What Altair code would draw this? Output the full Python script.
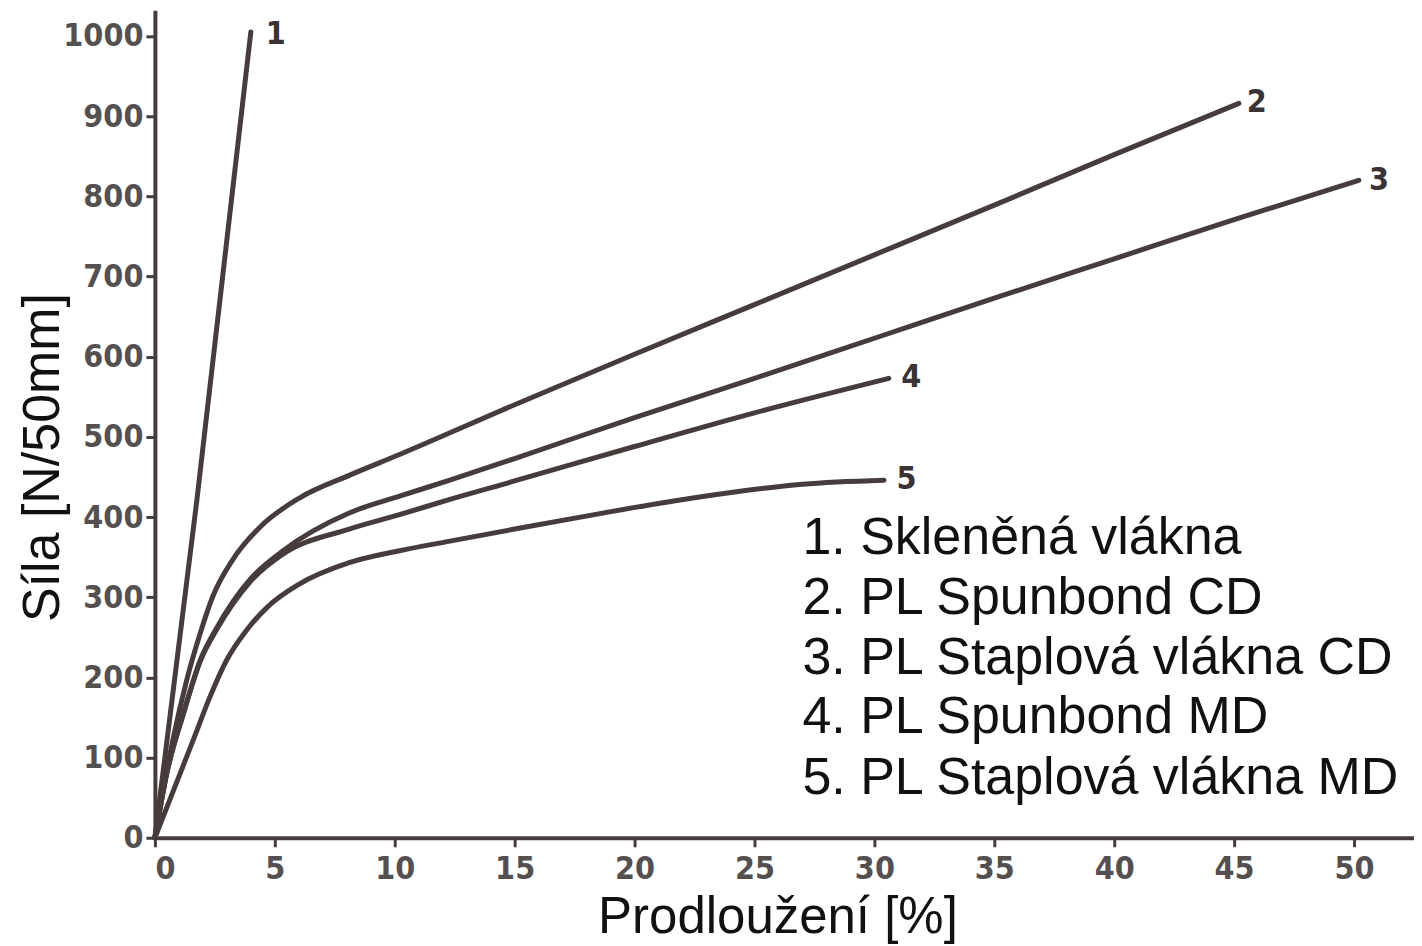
import altair as alt
import pandas as pd

# ---- data ----
x1 = [0, 1.75, 4.0]
y1 = [0, 421, 1005]

x2 = [0, 0.75, 1.33, 1.9, 2.4, 3.25, 4.4, 6.04, 8.1, 10.2, 15.0, 20.0, 25.0, 30.0, 35.0, 40.0, 45.2]
y2 = [0, 122, 197, 256, 300, 347, 388, 424, 452, 478, 540, 603, 665, 727, 789, 852, 916]

x3 = [0, 0.5, 1.2, 1.9, 2.6, 3.96, 5.3, 8.1, 10.2, 12.3, 15.0, 20.0, 25.0, 30.0, 35.0, 40.0, 45.0, 50.2]
y3 = [0, 81, 156, 222, 263, 322, 357, 405, 426, 446, 473, 524, 573, 623, 673, 722, 771, 820]

x4 = [0, 0.5, 1.2, 1.9, 2.6, 3.96, 5.3, 8.1, 10.2, 12.3, 15.0, 20.0, 25.0, 30.6]
y4 = [0, 81, 156, 221, 261, 319, 353, 385, 403, 422, 445, 488, 530, 573]

x5 = [0, 0.8, 1.6, 2.3, 3.0, 3.8, 4.7, 6.0, 8.1, 10.2, 12.3, 15.0, 18.5, 21.0, 24.1, 27.0, 30.4]
y5 = [0, 61, 122, 176, 222, 258, 288, 316, 343, 358, 370, 385, 404, 417, 431, 441, 446]

curve_ids = ["1", "2", "3", "4", "5"]
label_x = [4.5, 45.4, 50.5, 31.0, 30.8]
label_y = [1003, 918, 820, 575, 448]

legend_text = [
    "1. Skleněná vlákna",
    "2. PL Spunbond CD",
    "3. PL Staplová vlákna CD",
    "4. PL Spunbond MD",
    "5. PL Staplová vlákna MD",
]
legend_x = [27.0, 27.0, 27.0, 27.0, 27.0]
legend_y = [374, 299, 224, 150, 75]

x_ticks = [0, 5, 10, 15, 20, 25, 30, 35, 40, 45, 50]
y_ticks = [0, 100, 200, 300, 400, 500, 600, 700, 800, 900, 1000]

# ---- build tables ----
rows = []
for cid, xs, ys in zip(curve_ids, [x1, x2, x3, x4, x5], [y1, y2, y3, y4, y5]):
    for i, (a, b) in enumerate(zip(xs, ys)):
        rows.append({"curve": cid, "order": i, "x": a, "y": b})
lines_df = pd.DataFrame(rows)
labels_df = pd.DataFrame({"curve": curve_ids, "x": label_x, "y": label_y})
legend_df = pd.DataFrame({"t": legend_text, "x": legend_x, "y": legend_y})

INK = "#463c3c"
TICK_FONT = "DejaVu Sans Condensed"

xscale = alt.Scale(domain=[0, 52.5], nice=False, zero=False)
yscale = alt.Scale(domain=[0, 1032], nice=False, zero=False)

xaxis = alt.Axis(
    values=x_ticks, format="d", title="Prodloužení [%]", grid=False,
    labelFont=TICK_FONT, labelFontSize=32, labelColor="#555050", labelFontWeight="bold",
    labelPadding=7, tickSize=9, tickWidth=3, tickColor=INK,
    domainColor=INK, domainWidth=4,
    titleFont="Liberation Sans", titleFontSize=51, titleFontWeight="normal",
    titleColor="#111111", titleX=623, titleY=80, titleAlign="center", titleBaseline="middle",
)
yaxis = alt.Axis(
    values=y_ticks, format="d", title="Síla [N/50mm]", grid=False,
    labelFont=TICK_FONT, labelFontSize=32, labelColor="#555050", labelFontWeight="bold",
    labelPadding=3, tickSize=9, tickWidth=3, tickColor=INK,
    domainColor=INK, domainWidth=4,
    titleFont="Liberation Sans", titleFontSize=52, titleFontWeight="normal",
    titleColor="#111111", titleX=-112, titleY=447, titleAngle=270,
    titleAlign="center", titleBaseline="middle",
)

lines = alt.Chart(lines_df).mark_line(
    color=INK, strokeWidth=5, interpolate="monotone", strokeCap="round"
).encode(
    x=alt.X("x:Q", scale=xscale, axis=xaxis),
    y=alt.Y("y:Q", scale=yscale, axis=yaxis),
    detail="curve:N",
    order="order:Q",
)

end_labels = alt.Chart(labels_df).mark_text(
    align="left", baseline="middle", dx=3, font=TICK_FONT, fontSize=32,
    fontWeight="bold", color="#3a3333",
).encode(x=alt.X("x:Q", scale=xscale), y=alt.Y("y:Q", scale=yscale), text="curve:N")

legend = alt.Chart(legend_df).mark_text(
    align="left", baseline="middle", font="Liberation Sans", fontSize=52, color="#111111",
).encode(x=alt.X("x:Q", scale=xscale), y=alt.Y("y:Q", scale=yscale), text="t:N")

chart = (lines + end_labels + legend).properties(
    width=1260, height=828,
    autosize=alt.AutoSizeParams(type="none"),
    padding={"left": 147, "top": 2, "right": 0, "bottom": 106},
).configure(background="white").configure_view(strokeWidth=0, stroke=None)

chart.save("out.html", embed_options={"renderer": "svg", "actions": False})
